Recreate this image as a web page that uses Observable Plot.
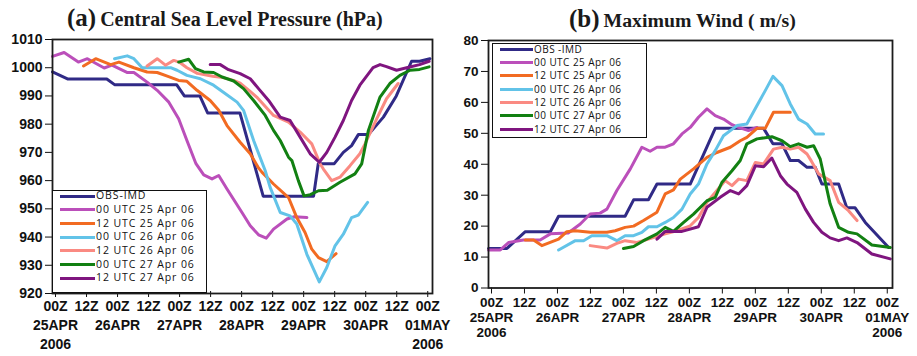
<!DOCTYPE html>
<html><head><meta charset="utf-8">
<script src="https://cdn.jsdelivr.net/npm/d3@7"></script>
<script src="https://cdn.jsdelivr.net/npm/@observablehq/plot@0.6"></script>
<style>
body{margin:0;background:#fff;}
#wrap{position:relative;width:917px;height:356px;overflow:hidden;background:#fff;}
#wrap svg{position:absolute;top:0;overflow:visible;}
.title{position:absolute;font-family:"Liberation Serif","Times New Roman",serif;font-weight:bold;white-space:nowrap;line-height:1;color:#1a1a1a}
.legend{position:absolute;border:1.4px solid #111;background:#fff;box-sizing:border-box;}
.lrow{position:absolute;white-space:nowrap;font-family:"Open Sans",sans-serif;color:#111;line-height:1;}
.sw{position:absolute;height:3px;}
</style></head><body><div id="wrap"></div>
<script>
// ---------- data ----------
const seriesNames = ["OBS-IMD","00 UTC 25 Apr 06","12 UTC 25 Apr 06","00 UTC 26 Apr 06","12 UTC 26 Apr 06","00 UTC 27 Apr 06","12 UTC 27 Apr 06"];
const rightLegendNames = ["OBS -IMD","00 UTC 25 Apr 06","12 UTC 25 Apr 06","00 UTC 26 Apr 06","12 UTC 26 Apr 06","00 UTC 27 Apr 06","12 UTC 27 Apr 06"];
const seriesColors = ["#302a86","#bb4fba","#f26b22","#62c3e8","#fa8a82","#128012","#7f157f"];

const xTickHours = [0,12,24,36,48,60,72,84,96,108,120,132,144];
const xTickLabels = ["00Z\n25APR\n2006","12Z","00Z\n26APR","12Z","00Z\n27APR","12Z","00Z\n28APR","12Z","00Z\n29APR","12Z","00Z\n30APR","12Z","00Z\n01MAY\n2006"];
const slpTicks = [920,930,940,950,960,970,980,990,1000,1010];
const windTicks = [0,10,20,30,40,50,60,70,80];

// Central sea level pressure (hPa): [hours since 00Z 25 Apr, value]
const slpObs = [[0,998.5],[6,996],[21,996],[24,994],[48,994],[51,990],[57,990],[60,984],[72.5,984],[81.5,954.5],[101,954.5],[102.8,966],[109,966],[112.5,970],[115.7,972.4],[118.3,976.3],[122.2,976.3],[128,982.5],[133,990],[138.9,1002.3],[142,1002.3],[146,1003.2]];
const slp00_25 = [[0,1004],[4.5,1005.4],[10,1002],[13.5,1003.2],[20,999.9],[23,1000.9],[29,998.3],[31.5,998.3],[36.6,994.9],[40.5,992],[45,987.8],[48.8,981.9],[52,974.2],[55.5,966],[58.5,962],[61.7,960.6],[64.3,961.8],[67.5,957],[73.3,948.7],[76.5,944],[79.7,940.8],[82.7,939.6],[85.5,942.8],[90.7,946.4],[93.5,947.2],[98.4,946.9]];
const slp12_25 = [[12,1000.6],[16.7,1003.2],[22.5,1001.1],[25.7,1002],[31.5,1000],[36.6,998.5],[40.5,998.3],[44.4,997],[48.8,995.5],[52,995.2],[55.9,992],[61,988.4],[64.3,984.9],[67.5,979.5],[72.6,973.6],[76.5,969.5],[79.7,964.5],[81,963],[85.5,958.8],[91.3,954],[94.5,946.9],[97.7,941.6],[100.3,935.7],[102.9,932.7],[106.1,931.3],[109.7,934.1]];
const slp00_26 = [[24,1003.2],[28.9,1004.2],[31.5,1003.2],[34.7,1000],[45.7,1000],[48.2,999.1],[52,997.3],[57.2,996.1],[62.3,993.8],[66.9,990.8],[71.4,987.8],[73.9,984.9],[77.8,974.2],[82.3,963.5],[84.2,957.6],[88.1,948.7],[91.9,947.5],[94.5,944.6],[98.4,933.9],[103.2,924.1],[106.1,929.2],[109.3,936.9],[112.5,941],[115.7,946.9],[118.3,947.8],[121.9,952.3]];
const slp12_26 = [[36.6,1000.6],[40.5,1003.2],[43.7,1000.9],[46.9,1002.6],[49,1002],[52,1000],[56,998],[62,997],[66,996.5],[70,995.5],[72.6,994.5],[76,992],[79,989.6],[85.5,983.1],[91.3,980.7],[95.8,977.2],[100.3,973],[103.5,966],[104.8,964.1],[108,960],[111.2,961.2],[115.1,965.3],[118.9,969.5],[120.9,973],[125.4,981.9],[129.2,989],[133.7,994.4]];
const slp00_27 = [[48.8,1002],[52.7,1003],[55.3,999.7],[58.5,998.5],[62.3,998.3],[65.6,996.7],[70.1,995.3],[73.9,992.6],[77.8,988.4],[82.3,983.1],[85.5,977.8],[88.1,974.2],[91.3,968.3],[92.6,967.1],[95.1,960],[97.3,954.6],[99.7,955],[102.9,956.4],[106.3,956.6],[111.2,959.4],[117,962.4],[119.6,965.9],[122.2,977.8],[126.7,989.6],[130.5,994.4],[134.4,997.3],[138.3,999.1],[142,999.4],[145.7,1000.3]];
const slp12_27 = [[61,1001.1],[64.9,1001.1],[68.1,999.3],[72.6,997.9],[76.5,996.1],[79.7,992.6],[83.6,988.4],[88.1,982.5],[91.9,981.3],[95.8,975.4],[99.7,969.5],[103.2,966.5],[106.1,970],[109.3,975.4],[112.5,981.3],[115.7,988.4],[118.9,993.8],[124,1000],[126.7,1001.1],[129.2,1000.4],[133.1,999.1],[137,1000],[142,1001.1],[145.7,1002.3]];

// Maximum wind (m/s)
const windObs = [[0,12.8],[6.7,12.8],[13.4,18.2],[22.5,18.2],[25.5,23.2],[49.7,23.2],[52.8,28.5],[58.2,28.5],[61.3,33.6],[73.4,33.6],[82.5,51.6],[100.1,51.6],[103.5,46.6],[106.8,46.6],[109.8,41.2],[112.8,41.2],[115.9,39],[118.9,39],[121.3,33.6],[127.4,33.6],[130.4,25.9],[133.4,25.9],[137.1,21.2],[145.6,13.1]];
const wind00_25 = [[0,12.3],[4.3,12.3],[7.3,14.7],[12.7,15.5],[18.8,15.5],[22.5,17.5],[29,17.8],[33.4,20.7],[37,23.9],[40.6,24.2],[43.1,25.5],[46.7,31.5],[51.6,38.5],[55.8,45.5],[58.8,44.2],[61.3,45.5],[64.3,45.5],[67.3,46.6],[70.4,49.8],[73.4,51.9],[76.4,55.2],[79.5,57.9],[82.5,55.7],[85.5,54.6],[88.6,52.8],[91,51.9],[94.6,50.9],[97.7,51.9]];
const wind12_25 = [[13.4,15.5],[16.4,15.5],[19.4,13.7],[25.5,15.8],[28.5,18.2],[31.6,18.5],[37,18],[43.1,18],[46.1,18.5],[49.7,19.6],[52.8,20],[56.4,21.8],[61.3,24.5],[64.3,30.4],[67.3,31.7],[69.8,35.2],[74.6,38.5],[79.5,42.2],[83.1,43.8],[88,45.5],[91.6,47.6],[94,48.7],[97.7,51.6],[100.7,51.6],[103.7,56.8],[109.8,56.8]];
const wind00_26 = [[25.5,12.3],[31.6,15.3],[34.6,15.3],[37.6,16.9],[43.1,16.9],[46.7,15.3],[49.7,16.9],[52.8,16.9],[55.8,18],[58.2,19.8],[61.3,19.8],[64.3,21.2],[67.3,22.8],[70.4,25.5],[73.4,30.4],[76.4,33.6],[79.5,40.1],[82.5,44.4],[85.5,49.2],[90.4,52.5],[94,53],[97.7,59],[100.7,63.8],[103.5,68.4],[106.8,65.4],[109.8,59.5],[112.8,54.6],[115.9,53],[118.9,49.8],[121.9,49.8]];
const wind12_26 = [[37,13.7],[43.1,12.9],[46.7,14.4],[49.7,15.3],[54,14.7],[58.2,15.8],[64.3,17.5],[68.6,18.5],[73.4,20.1],[76.4,22.8],[79.5,27.7],[83.1,31.5],[86.1,34.7],[88.6,33.1],[91,35.2],[94,34.7],[97.1,40.6],[100.1,40.1],[103.7,44.9],[106.8,45.5],[109.8,44.9],[112.8,45.5],[115.9,43.3],[117.5,41],[120.1,36.9],[124.3,34.7],[127.4,27.7],[131,25],[134.1,21.8]];
const wind00_27 = [[49.1,12.8],[52.8,13.4],[56.4,15.3],[61.3,17.5],[64.3,19.6],[67.3,18.3],[71,21.2],[74.6,23.9],[79.5,28.2],[82.5,29.3],[84.9,34.1],[88.6,37.9],[91.6,41.2],[94,46.6],[97.7,48.2],[103.1,48.9],[106.8,47.6],[109.8,45.7],[112.8,46.6],[115.9,45.5],[118.3,46],[120.7,41.7],[124.3,27.2],[127.4,19.6],[131,18],[134.1,17.5],[139.5,13.9],[146.2,13.1]];
const wind12_27 = [[61.3,15.8],[64.3,18.3],[70.4,18.3],[76.4,19.8],[79.5,26.1],[84.3,29.3],[88,31.5],[91,30.4],[94,33.1],[97.1,39.5],[100.1,39.2],[103.1,42],[106.2,36.3],[108.6,33.6],[112.2,30.9],[115.3,25.5],[118.3,21.2],[121.3,18],[124.3,16.2],[127.4,15.3],[130.4,16.2],[134.1,14.7],[139.5,11],[146.2,9.4]];

const slpSeries = [slpObs,slp00_25,slp12_25,slp00_26,slp12_26,slp00_27,slp12_27];
const windSeries = [windObs,wind00_25,wind12_25,wind00_26,wind12_26,wind00_27,wind12_27];

// ---------- build ----------
function rows(list){
  const out=[];
  list.forEach((s,i)=>s.forEach(([h,v])=>out.push({series:seriesNames[i],h,v})));
  return out;
}
const wrap=document.getElementById("wrap");
const fmtX = d => xTickLabels[xTickHours.indexOf(d)];
const baseStyle = {fontFamily:"'Liberation Sans', Arial, sans-serif", fontWeight:"bold", color:"#111", background:"transparent"};

function panel({data, yDomain, yTicks, left, width, mL, mR, mT, mB, fs, lh, pad, ddy}){
  const p = Plot.plot({
    width, height:356, marginLeft:mL, marginRight:mR, marginTop:mT, marginBottom:mB,
    x:{domain:[0,147]},
    y:{domain:yDomain},
    color:{domain:seriesNames, range:seriesColors},
    style:{...baseStyle, fontSize:fs+"px"},
    marks:[
      Plot.line(rows(data),{x:"h",y:"v",stroke:"series",strokeWidth:3,strokeLinejoin:"round"}),
      Plot.axisY({ticks:yTicks, tickSize:7, tickPadding:3, tickFormat:d=>String(d), label:null, fontSize:fs, fontWeight:"bold", stroke:"#111"}),
      Plot.axisX({ticks:xTickHours, tickSize:6, tickPadding:pad, tickFormat:fmtX, label:null, fontSize:fs, fontWeight:"bold", lineHeight:lh, dx:3, dy:ddy, stroke:"#111"}),
      Plot.frame({stroke:"#1c1c1c", strokeWidth:1.8})
    ]
  });
  p.style.left = left+"px";
  wrap.appendChild(p);
}
panel({data:slpSeries, yDomain:[920,1010], yTicks:slpTicks, left:0, width:460, mL:52, mR:28, mT:39, mB:63, fs:14, lh:1.36, pad:0, ddy:-2});
panel({data:windSeries, yDomain:[0,80], yTicks:windTicks, left:460, width:457, mL:28, mR:25, mT:40, mB:68.5, fs:13.5, lh:1.12, pad:2, ddy:0});

// titles
function title(x, top, letter, text, fsBig, fsText){
  const d=document.createElement("div");
  d.className="title";
  d.style.left=x+"px"; d.style.top=top+"px";
  d.innerHTML=`<span style="font-size:${fsBig}px">${letter}</span> <span style="font-size:${fsText}px">${text}</span>`;
  wrap.appendChild(d);
}
title(67, 5, "(a)", "Central Sea Level Pressure (hPa)", 25, 20);
title(569, 6, "(b)", "Maximum Wind ( m/s)", 25, 19.8);

// legends
function legend(names, {x,y,w,h,rowY,swX0,swX1,txtX,fs,ls}){
  const box=document.createElement("div");
  box.className="legend";
  Object.assign(box.style,{left:x+"px",top:y+"px",width:w+"px",height:h+"px"});
  wrap.appendChild(box);
  names.forEach((n,i)=>{
    const cy=rowY[0]+i*rowY[1];
    const sw=document.createElement("div");
    sw.className="sw";
    Object.assign(sw.style,{left:swX0+"px",width:(swX1-swX0)+"px",top:(cy-1.5)+"px",background:seriesColors[i]});
    wrap.appendChild(sw);
    const t=document.createElement("div");
    t.className="lrow";
    Object.assign(t.style,{left:txtX+"px",top:(cy-fs*0.55)+"px",fontSize:fs+"px",letterSpacing:ls+"px"});
    t.textContent=n;
    wrap.appendChild(t);
  });
}
legend(seriesNames,{x:52,y:190,w:155,h:103,rowY:[196,13.67],swX0:60,swX1:95,txtX:96,fs:10.5,ls:0.9});
legend(rightLegendNames,{x:492,y:43,w:155,h:95,rowY:[49.3,13.3],swX0:500,swX1:533,txtX:534,fs:10,ls:0.45});
</script></body></html>
